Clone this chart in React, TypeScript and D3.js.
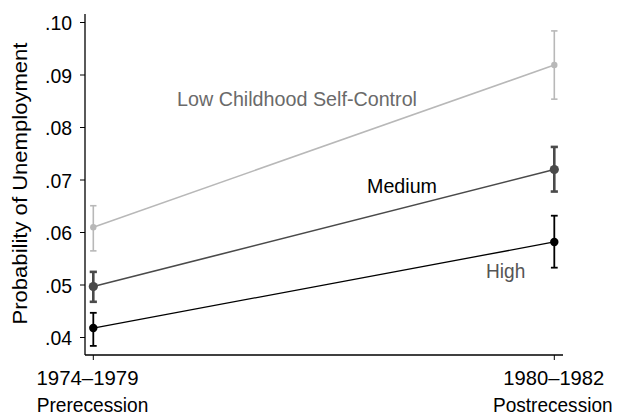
import React from "react";
import * as d3 from "d3";

const periods = ["1974–1979", "1980–1982"];
const periodSub = ["Prerecession", "Postrecession"];
const yTicks = [0.04, 0.05, 0.06, 0.07, 0.08, 0.09, 0.10];

const lowMean = [0.0610, 0.0919];
const lowLo = [0.0565, 0.0854];
const lowHi = [0.0651, 0.0984];
const medMean = [0.0497, 0.0720];
const medLo = [0.0468, 0.0678];
const medHi = [0.0525, 0.0763];
const highMean = [0.0418, 0.0582];
const highLo = [0.0384, 0.0533];
const highHi = [0.0447, 0.0632];

const FONT = "'Liberation Sans', Arial, sans-serif";

export default function App() {
  const W = 617, H = 417;
  const y = d3.scaleLinear().domain([0.04, 0.10]).range([337.5, 22.5]);
  const x = d3.scalePoint<string>().domain(periods).range([93.3, 554.3]);
  const yTop = y(0.1016);
  const yBot = 355;
  const xLeft = 85;
  const xRight = 563;
  const fs = 21;

  const series = [
    { name: "Low", mean: lowMean, lo: lowLo, hi: lowHi, color: "#b8b8b8", lw: 1.6, ew: 1.6, r: 3.2, cap: 3.2 },
    { name: "Medium", mean: medMean, lo: medLo, hi: medHi, color: "#4a4a4a", lw: 1.6, ew: 2.6, r: 4.6, cap: 3.6 },
    { name: "High", mean: highMean, lo: highLo, hi: highHi, color: "#000000", lw: 1.3, ew: 1.8, r: 4.2, cap: 3.4 },
  ];

  const line = d3.line<number>().x((_, i) => x(periods[i])!).y((d) => y(d));
  const periodW = [102, 101];
  const subW = [111.7, 119.5];
  const periodDx = [-5.8, -0.5];
  const subDx = [-0.8, -1.5];

  return (
    <svg width={W} height={H} style={{ position: "absolute", left: 0, top: 0, background: "#fff" }} fontFamily={FONT}>
      <line x1={xLeft} x2={xLeft} y1={yTop} y2={yBot} stroke="#000" strokeWidth={1.3} />
      <line x1={xLeft} x2={xRight} y1={yBot} y2={yBot} stroke="#000" strokeWidth={1.3} />
      {yTicks.map((t) => (
        <g key={t}>
          <line x1={xLeft - 5} x2={xLeft} y1={y(t)} y2={y(t)} stroke="#000" strokeWidth={1} />
          <text x={72} y={y(t)} dy="0.36em" textAnchor="end" fontSize={fs} fill="#000" textLength={27} lengthAdjust="spacingAndGlyphs">
            {d3.format(".2f")(t).replace(/^0/, "")}
          </text>
        </g>
      ))}
      {periods.map((p, i) => (
        <g key={p}>
          <line x1={x(p)} x2={x(p)} y1={yBot} y2={yBot + 5} stroke="#000" strokeWidth={1} />
          <text x={x(p)! + periodDx[i]} y={385} textAnchor="middle" fontSize={fs} fill="#000" textLength={periodW[i]} lengthAdjust="spacingAndGlyphs">{p}</text>
          <text x={x(p)! + subDx[i]} y={411.5} textAnchor="middle" fontSize={fs} fill="#000" textLength={subW[i]} lengthAdjust="spacingAndGlyphs">{periodSub[i]}</text>
        </g>
      ))}
      <text transform={`translate(27,183.5) rotate(-90)`} textAnchor="middle" fontSize={fs} fill="#000" textLength={282} lengthAdjust="spacingAndGlyphs">
        Probability of Unemployment
      </text>

      {series.map((s) => (
        <g key={s.name}>
          <path d={line(s.mean)!} fill="none" stroke={s.color} strokeWidth={s.lw} />
          {s.mean.map((m, i) => {
            const cx = x(periods[i])!;
            return (
              <g key={i}>
                <line x1={cx} x2={cx} y1={y(s.lo[i])} y2={y(s.hi[i])} stroke={s.color} strokeWidth={s.ew} />
                <line x1={cx - s.cap} x2={cx + s.cap} y1={y(s.lo[i])} y2={y(s.lo[i])} stroke={s.color} strokeWidth={s.ew} />
                <line x1={cx - s.cap} x2={cx + s.cap} y1={y(s.hi[i])} y2={y(s.hi[i])} stroke={s.color} strokeWidth={s.ew} />
                <circle cx={cx} cy={y(m)} r={s.r} fill={s.color} />
              </g>
            );
          })}
        </g>
      ))}

      <text x={177} y={106} fontSize={fs} fill="#6a6a6a" textLength={240} lengthAdjust="spacingAndGlyphs">Low Childhood Self-Control</text>
      <text x={367} y={193.3} fontSize={fs} fill="#000" textLength={70} lengthAdjust="spacingAndGlyphs">Medium</text>
      <text x={486} y={278.3} fontSize={fs} fill="#555" textLength={39.3} lengthAdjust="spacingAndGlyphs">High</text>
    </svg>
  );
}
